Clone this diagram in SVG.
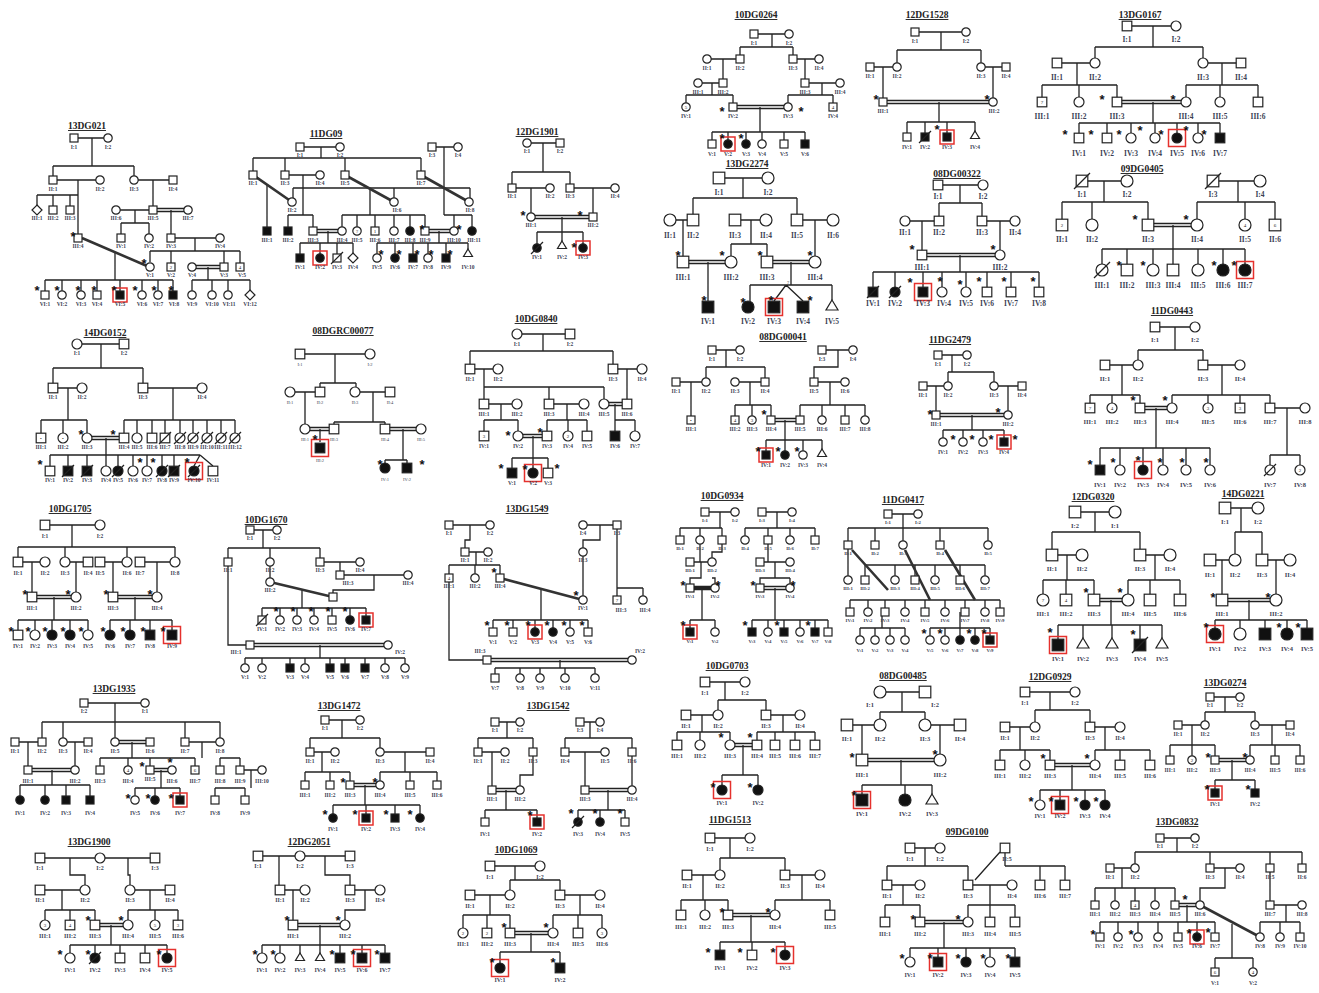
<svg xmlns="http://www.w3.org/2000/svg" width="1319" height="993" viewBox="0 0 1319 993">
<style>
use{fill:#fff;stroke:#222;stroke-width:1.2}
use.f{fill:#111}
use.r{fill:none;stroke:#e5312d;stroke-width:1.5}
.l{fill:none;stroke:#222;stroke-width:1.3}
.d{fill:none;stroke:#333;stroke-width:2.6}
text{font-family:"Liberation Serif",serif;text-anchor:middle}
.h{font-size:9.5px;font-weight:bold;fill:#222;text-decoration:underline}
.t{font-size:5.5px;font-weight:bold;fill:#3c3f55}
.T{font-size:7.5px;font-weight:bold;fill:#3c3f55}
.k{font-size:13px;font-weight:bold;fill:#111;font-family:"Liberation Sans",sans-serif}
.n{font-size:5px;fill:#222}
</style>
<defs>
<rect id="s" x="-4" y="-4" width="8" height="8"/>
<circle id="c" r="4.2"/>
<rect id="m" x="-4.8" y="-4.8" width="9.6" height="9.6"/>
<circle id="o" r="5"/>
<rect id="L" x="-5.8" y="-5.8" width="11.6" height="11.6"/>
<circle id="O" r="6"/>
<path id="tr" d="M0,-4L4.5,3.5H-4.5Z"/>
<path id="TR" d="M0,-5L6,5H-6Z"/>
<path id="di" d="M0,-5L5,0L0,5L-5,0Z"/>
<rect id="p" x="-7" y="-7" width="14" height="14"/>
<rect id="P" x="-8.5" y="-8.5" width="17" height="17"/>
<path id="x" d="M-6,6L6,-6"/>
<path id="X" d="M-8,8L8,-8"/>
</defs>
<rect width="1319" height="993" fill="#fff"/>

<g id="p10DG0264">
<text class="h" x="756" y="18">10DG0264</text>
<g class="conn"><path class="l" d="M754,34H789M772,34V47M740,47H793M740,47V59M793,47V59M707,59H740M819,59H793M723,59V83M805,59V83M698,83H723M805,83H840M712,83V95M686,95H733M686,95V107M733,95V107M822,83V95M788,95H833M788,95V107M833,95V107M733,105.5H788M733,108.5H788M760,107V132M712,132H805M712,132V144M728,132V144M746,132V144M762,132V144M784,132V144M805,132V144"/></g>
<use href="#s" x="754" y="34"/><use href="#c" x="789" y="34"/>
<use href="#c" x="707" y="59"/><use href="#s" x="740" y="59"/><use href="#s" x="793" y="59"/><use href="#c" x="819" y="59"/>
<use href="#c" x="698" y="83"/><use href="#s" x="723" y="83"/><use href="#s" x="805" y="83"/><use href="#c" x="840" y="83"/>
<use href="#c" x="686" y="107"/><use href="#s" x="733" y="107"/><use href="#c" x="788" y="107"/><use href="#s" x="833" y="107"/>
<use href="#s" x="712" y="144"/><use href="#c" class="f" x="728" y="144"/><use href="#c" class="f" x="746" y="144"/><use href="#c" x="762" y="144"/><use href="#s" x="784" y="144"/><use href="#s" class="f" x="805" y="144"/>
<use href="#p" class="r" x="728" y="144"/>
<text class="n" x="686" y="109">5</text><text class="n" x="833" y="109">4</text>
<text class="k" x="722" y="116">*</text><text class="k" x="801" y="116">*</text><text class="k" x="722" y="143">*</text><text class="k" x="741" y="143">*</text>
<g class="t"><text x="754" y="45">I:1</text><text x="789" y="45">I:2</text><text x="707" y="70">II:1</text><text x="740" y="70">II:2</text><text x="793" y="70">II:3</text><text x="819" y="70">II:4</text><text x="698" y="94">III:1</text><text x="723" y="94">III:2</text><text x="805" y="94">III:3</text><text x="840" y="94">III:4</text><text x="686" y="118">IV:1</text><text x="733" y="118">IV:2</text><text x="788" y="118">IV:3</text><text x="833" y="118">IV:4</text><text x="712" y="156">V:1</text><text x="728" y="156">V:2</text><text x="746" y="156">V:3</text><text x="762" y="156">V:4</text><text x="784" y="156">V:5</text><text x="805" y="156">V:6</text></g>
</g>

<g id="p12DG1528">
<text class="h" x="927" y="18">12DG1528</text>
<g class="conn"><path class="l" d="M915,32H966M941,32V50M897,50H981M897,50V67M981,50V67M870,67H897M981,67H1006M883,67V102M993,67V102M883,100.5H993M883,103.5H993M939,102V122M907,122H975M907,122V137M925,122V137M947,122V137M975,122V133"/></g>
<use href="#s" x="915" y="32"/><use href="#c" x="966" y="32"/>
<use href="#s" x="870" y="67"/><use href="#c" x="897" y="67"/><use href="#c" x="981" y="67"/><use href="#s" x="1006" y="67"/>
<use href="#s" x="883" y="102"/><use href="#c" x="993" y="102"/>
<use href="#s" x="907" y="137"/><use href="#s" class="f" x="925" y="137"/><use href="#x" x="925" y="137"/><use href="#s" class="f" x="947" y="137"/><use href="#p" class="r" x="947" y="137"/><use href="#tr" x="975" y="135"/>
<text class="k" x="876" y="104">*</text><text class="k" x="987" y="104">*</text><text class="k" x="937" y="134">*</text>
<g class="t"><text x="915" y="43">I:1</text><text x="966" y="43">I:2</text><text x="870" y="78">II:1</text><text x="897" y="78">II:2</text><text x="981" y="78">II:3</text><text x="1006" y="78">II:4</text><text x="883" y="113">III:1</text><text x="994" y="113">III:2</text><text x="907" y="149">IV:1</text><text x="925" y="149">IV:2</text><text x="947" y="149">IV:3</text><text x="975" y="149">IV:4</text></g>
</g>

<g id="p13DG0167">
<text class="h" x="1140" y="18">13DG0167</text>
<g class="conn"><path class="l" d="M1127,26H1176M1153,26V47M1095,47H1203M1095,47V63M1203,47V63M1057,63H1095M1203,63H1241M1077,63V85M1042,85H1117M1042,85V102M1079,85V102M1117,85V102M1222,63V85M1186,85H1258M1186,85V102M1220,85V102M1258,85V102M1117,100.5H1186M1117,103.5H1186M1153,102V123M1079,123H1220M1079,123V138M1107,123V138M1131,123V138M1155,123V138M1177,123V138M1198,123V138M1220,123V138"/></g>
<use href="#m" x="1127" y="26"/><use href="#o" x="1176" y="26"/>
<use href="#m" x="1057" y="63"/><use href="#o" x="1095" y="63"/><use href="#o" x="1203" y="63"/><use href="#m" x="1241" y="63"/>
<use href="#m" x="1042" y="102"/><use href="#o" x="1079" y="102"/><use href="#m" x="1117" y="102"/><use href="#o" x="1186" y="102"/><use href="#o" x="1220" y="102"/><use href="#m" x="1258" y="102"/>
<use href="#m" x="1079" y="138"/><use href="#m" x="1107" y="138"/><use href="#o" x="1131" y="138"/><use href="#o" x="1155" y="138"/><use href="#o" class="f" x="1177" y="138"/><use href="#o" x="1198" y="138"/><use href="#m" class="f" x="1220" y="138"/>
<use href="#P" class="r" x="1177" y="138"/>
<text class="n" x="1042" y="104">7</text>
<text class="k" x="1102" y="104">*</text><text class="k" x="1173" y="104">*</text><text class="k" x="1065" y="139">*</text><text class="k" x="1091" y="139">*</text><text class="k" x="1119" y="139">*</text><text class="k" x="1140" y="135">*</text><text class="k" x="1161" y="139">*</text><text class="k" x="1186" y="135">*</text><text class="k" x="1204" y="139">*</text>
<g class="T"><text x="1127" y="42">I:1</text><text x="1176" y="42">I:2</text><text x="1057" y="80">II:1</text><text x="1095" y="80">II:2</text><text x="1203" y="80">II:3</text><text x="1241" y="80">II:4</text><text x="1042" y="119">III:1</text><text x="1079" y="119">III:2</text><text x="1117" y="119">III:3</text><text x="1186" y="119">III:4</text><text x="1220" y="119">III:5</text><text x="1258" y="119">III:6</text><text x="1079" y="156">IV:1</text><text x="1107" y="156">IV:2</text><text x="1131" y="156">IV:3</text><text x="1155" y="156">IV:4</text><text x="1177" y="156">IV:5</text><text x="1198" y="156">IV:6</text><text x="1220" y="156">IV:7</text></g>
</g>

<g id="p13DG021">
<text class="h" x="87" y="129">13DG021</text>
<g class="conn"><path class="l" d="M74,138H108M92,138V166M53,166H134M53,166V180M134,166V180M53,180H100M134,180H173M78,180V238M37,195H78M37,195V210M53,195V210M70,195V210M153,180V210M116,210H153M153,208.5H188M153,211.5H188M135,210V223M121,223H149M121,223V238M149,223V238M171,210V238M171,238H220M195,238V251M150,251H240M150,251V262M171,251V267M224,251V267M240,251V267M192,265.5H224M192,268.5H224M115,253V280M45,280H173M45,280V295M62,280V295M81,280V295M97,280V295M120,280V295M142,280V295M158,280V295M173,280V295M208,267V280M192,280H250M192,280V295M212,280V295M228,280V295M250,280V295"/><path class="d" d="M82,238L147,266"/></g>
<use href="#s" x="74" y="138"/><use href="#c" x="108" y="138"/>
<use href="#s" x="53" y="180"/><use href="#c" x="100" y="180"/><use href="#c" x="134" y="180"/><use href="#s" x="173" y="180"/>
<use href="#di" x="37" y="210"/><use href="#s" x="53" y="210"/><use href="#s" x="70" y="210"/><use href="#c" x="116" y="210"/><use href="#s" x="153" y="210"/><use href="#c" x="188" y="210"/>
<use href="#s" x="78" y="238"/><use href="#s" x="121" y="238"/><use href="#c" x="149" y="238"/><use href="#s" x="171" y="238"/><use href="#c" x="220" y="238"/>
<use href="#c" x="150" y="267"/><use href="#s" x="171" y="267"/><use href="#c" x="192" y="267"/><use href="#s" x="224" y="267"/><use href="#s" x="240" y="267"/>
<use href="#s" x="45" y="295"/><use href="#c" x="62" y="295"/><use href="#c" x="81" y="295"/><use href="#s" x="97" y="295"/><use href="#s" class="f" x="120" y="295"/><use href="#c" x="142" y="295"/><use href="#c" x="158" y="295"/><use href="#s" class="f" x="173" y="295"/><use href="#c" x="192" y="295"/><use href="#c" x="212" y="295"/><use href="#c" x="228" y="295"/><use href="#di" x="250" y="295"/>
<use href="#p" class="r" x="120" y="295"/>
<text class="n" x="171" y="269">2</text><text class="n" x="240" y="269">4</text>
<text class="k" x="73" y="241">*</text><text class="k" x="144" y="268">*</text><text class="k" x="37" y="295">*</text><text class="k" x="57" y="295">*</text><text class="k" x="78" y="295">*</text><text class="k" x="94" y="295">*</text><text class="k" x="114" y="295">*</text><text class="k" x="135" y="295">*</text><text class="k" x="154" y="295">*</text><text class="k" x="171" y="295">*</text>
<g class="t"><text x="74" y="149">I:1</text><text x="108" y="149">I:2</text><text x="53" y="191">II:1</text><text x="100" y="191">II:2</text><text x="134" y="191">II:3</text><text x="173" y="191">II:4</text><text x="37" y="220">III:1</text><text x="53" y="220">III:2</text><text x="70" y="220">III:3</text><text x="116" y="220">III:6</text><text x="153" y="220">III:5</text><text x="188" y="220">III:7</text><text x="78" y="248">III:4</text><text x="121" y="248">IV:1</text><text x="149" y="248">IV:2</text><text x="171" y="248">IV:3</text><text x="220" y="248">IV:4</text><text x="150" y="277">V:1</text><text x="171" y="277">V:2</text><text x="192" y="277">V:4</text><text x="224" y="277">V:3</text><text x="242" y="277">V:5</text><text x="45" y="306">VI:1</text><text x="62" y="306">VI:2</text><text x="81" y="306">VI:3</text><text x="97" y="306">VI:4</text><text x="120" y="306">VI:5</text><text x="142" y="306">VI:6</text><text x="158" y="306">VI:7</text><text x="174" y="306">VI:8</text><text x="192" y="306">VI:9</text><text x="212" y="306">VI:10</text><text x="229" y="306">VI:11</text><text x="250" y="306">VI:12</text></g>
</g>

<g id="p11DG09">
<text class="h" x="326" y="137">11DG09</text>
<g class="conn"><path class="l" d="M300,147H340M321,147V158M253,158H421M253,158V175M285,158V175M345,158V175M421,158V175M285,175H320M432,147H458M444,147V215M293,188H470M293,188V198M394,188V198M470,188V198M444,215H472M454,215V231M472,215V231M267,185V231M303,175V215M288,215H313M288,215V231M313,215V231M370,189V215M342,215H425M342,215V231M357,215V231M375,215V231M394,215V231M410,215V231M425,215V231M313,229.5H342M313,232.5H342M425,229.5H454M425,232.5H454M328,231V243M300,243H353M300,243V258M320,243V258M337,243V258M353,243V258M439,231V243M377,243H468M377,243V258M395,243V258M413,243V258M428,243V258M446,243V258M468,243V249"/><path class="d" d="M253,175L292,202M345,175L394,202M421,175L469,202"/></g>
<use href="#s" x="300" y="147"/><use href="#c" x="340" y="147"/><use href="#s" x="432" y="147"/><use href="#c" x="458" y="147"/>
<use href="#s" x="253" y="175"/><use href="#s" x="285" y="175"/><use href="#c" x="320" y="175"/><use href="#s" x="345" y="175"/><use href="#s" x="421" y="175"/>
<use href="#c" x="292" y="202"/><use href="#c" x="394" y="202"/><use href="#c" x="469" y="202"/>
<use href="#s" class="f" x="267" y="231"/><use href="#s" class="f" x="288" y="231"/><use href="#s" x="313" y="231"/><use href="#c" x="342" y="231"/><use href="#c" x="357" y="231"/><use href="#s" x="375" y="231"/><use href="#c" x="394" y="231"/><use href="#c" class="f" x="410" y="231"/><use href="#s" x="425" y="231"/><use href="#c" x="454" y="231"/><use href="#c" class="f" x="472" y="231"/>
<use href="#s" class="f" x="300" y="258"/><use href="#c" class="f" x="320" y="258"/><use href="#s" x="337" y="258"/><use href="#x" x="337" y="258"/><use href="#di" x="353" y="258"/><use href="#c" x="377" y="258"/><use href="#c" class="f" x="395" y="258"/><use href="#s" class="f" x="413" y="258"/><use href="#c" x="428" y="258"/><use href="#s" class="f" x="446" y="258"/><use href="#tr" x="468" y="253"/>
<use href="#p" class="r" x="320" y="258"/>
<text class="n" x="357" y="233">?</text><text class="n" x="375" y="233">1</text>
<text class="k" x="422" y="234">*</text><text class="k" x="459" y="234">*</text><text class="k" x="381" y="259">*</text><text class="k" x="399" y="259">*</text><text class="k" x="417" y="259">*</text><text class="k" x="431" y="259">*</text><text class="k" x="450" y="259">*</text>
<g class="t"><text x="300" y="157">I:1</text><text x="340" y="157">I:2</text><text x="432" y="157">I:3</text><text x="458" y="157">I:4</text><text x="253" y="185">II:1</text><text x="285" y="185">II:3</text><text x="320" y="185">II:4</text><text x="345" y="185">II:5</text><text x="421" y="185">II:7</text><text x="292" y="212">II:2</text><text x="397" y="212">II:6</text><text x="470" y="212">II:8</text><text x="267" y="242">III:1</text><text x="288" y="242">III:2</text><text x="313" y="242">III:3</text><text x="342" y="242">III:4</text><text x="357" y="242">III:5</text><text x="375" y="242">III:6</text><text x="394" y="242">III:7</text><text x="410" y="242">III:8</text><text x="425" y="242">III:9</text><text x="454" y="242">III:10</text><text x="474" y="242">III:11</text><text x="300" y="269">IV:1</text><text x="320" y="269">IV:2</text><text x="337" y="269">IV:3</text><text x="353" y="269">IV:4</text><text x="377" y="269">IV:5</text><text x="395" y="269">IV:6</text><text x="413" y="269">IV:7</text><text x="428" y="269">IV:8</text><text x="446" y="269">IV:9</text><text x="468" y="269">IV:10</text></g>
</g>

<g id="p12DG1901">
<text class="h" x="537" y="135">12DG1901</text>
<g class="conn"><path class="l" d="M527,143H560M543,143V172M512,172H570M512,172V188M570,172V188M512,188H550M570,188H615M531,188V217M593,188V217M531,215.5H593M531,218.5H593M562,217V232M537,232H583M537,232V248M562,232V241M583,232V248"/></g>
<use href="#c" x="527" y="143"/><use href="#s" x="560" y="143"/>
<use href="#s" x="512" y="188"/><use href="#c" x="550" y="188"/><use href="#s" x="570" y="188"/><use href="#c" x="615" y="188"/>
<use href="#c" x="531" y="217"/><use href="#s" x="593" y="217"/>
<use href="#c" class="f" x="537" y="248"/><use href="#x" x="537" y="248"/><use href="#tr" x="562" y="245"/><use href="#c" class="f" x="583" y="248"/><use href="#p" class="r" x="583" y="248"/>
<text class="k" x="523" y="220">*</text><text class="k" x="580" y="220">*</text><text class="k" x="574" y="252">*</text>
<g class="t"><text x="527" y="153">I:1</text><text x="560" y="153">I:2</text><text x="512" y="198">II:1</text><text x="550" y="198">II:2</text><text x="570" y="198">II:3</text><text x="615" y="198">II:4</text><text x="531" y="227">III:1</text><text x="593" y="227">III:2</text><text x="537" y="259">IV:1</text><text x="562" y="259">IV:2</text><text x="583" y="259">IV:3</text></g>
</g>

<g id="p13DG2274">
<text class="h" x="747" y="167">13DG2274</text>
<g class="conn"><path class="l" d="M719,178H768M743,178V198M693,198H797M693,198V220M797,198V220M670,220H693M735,220H766M797,220H833M683,220V262M751,220V244M731,244H767M731,244V262M767,244V262M815,220V262M683,260.5H731M683,263.5H731M767,260.5H815M767,263.5H815M708,262V301M791,262V285M750,285H832M750,285V301M832,285V300M786,285L774,301M786,285L803,301"/></g>
<use href="#L" x="719" y="178"/><use href="#O" x="768" y="178"/>
<use href="#O" x="670" y="220"/><use href="#L" x="693" y="220"/><use href="#L" x="735" y="220"/><use href="#O" x="766" y="220"/><use href="#L" x="797" y="220"/><use href="#O" x="833" y="220"/>
<use href="#L" x="683" y="262"/><use href="#O" x="731" y="262"/><use href="#L" x="767" y="262"/><use href="#O" x="815" y="262"/>
<use href="#L" class="f" x="708" y="307"/><use href="#O" class="f" x="748" y="307"/><use href="#L" class="f" x="774" y="307"/><use href="#L" class="f" x="803" y="307"/><use href="#TR" x="832" y="305"/>
<use href="#P" class="r" x="774" y="307"/>
<text class="n" x="788" y="284">?</text>
<text class="k" x="678" y="260">*</text><text class="k" x="722" y="260">*</text><text class="k" x="760" y="260">*</text><text class="k" x="810" y="260">*</text><text class="k" x="704" y="305">*</text><text class="k" x="743" y="307">*</text><text class="k" x="771" y="305">*</text><text class="k" x="810" y="305">*</text>
<g class="T"><text x="719" y="195">I:1</text><text x="768" y="195">I:2</text><text x="670" y="238">II:1</text><text x="693" y="238">II:2</text><text x="735" y="238">II:3</text><text x="766" y="238">II:4</text><text x="797" y="238">II:5</text><text x="833" y="238">II:6</text><text x="683" y="280">III:1</text><text x="731" y="280">III:2</text><text x="767" y="280">III:3</text><text x="815" y="280">III:4</text><text x="708" y="324">IV:1</text><text x="748" y="324">IV:2</text><text x="774" y="324">IV:3</text><text x="803" y="324">IV:4</text><text x="832" y="324">IV:5</text></g>
</g>

<g id="p08DG00322">
<text class="h" x="957" y="177">08DG00322</text>
<g class="conn"><path class="l" d="M938,185H983M960,185V203M939,203H982M939,203V221M982,203V221M905,221H939M982,221H1015M922,221V255M1000,221V255M922,253.5H1000M922,256.5H1000M960,255V272M873,272H1039M873,272V292M895,272V292M923,272V292M942,272V292M966,272V292M987,272V292M1011,272V292M1039,272V292"/></g>
<use href="#m" x="938" y="185"/><use href="#o" x="983" y="185"/>
<use href="#o" x="905" y="221"/><use href="#m" x="939" y="221"/><use href="#m" x="982" y="221"/><use href="#o" x="1015" y="221"/>
<use href="#m" x="922" y="255"/><use href="#o" x="1000" y="255"/>
<use href="#m" class="f" x="873" y="292"/><use href="#x" x="873" y="292"/><use href="#o" class="f" x="895" y="292"/><use href="#x" x="895" y="292"/><use href="#m" class="f" x="923" y="292"/><use href="#o" x="942" y="292"/><use href="#o" x="966" y="292"/><use href="#m" x="987" y="292"/><use href="#m" x="1011" y="292"/><use href="#m" x="1039" y="292"/>
<use href="#P" class="r" x="923" y="292"/>
<text class="k" x="912" y="254">*</text><text class="k" x="993" y="254">*</text><text class="k" x="910" y="287">*</text><text class="k" x="940" y="286">*</text><text class="k" x="960" y="289">*</text><text class="k" x="979" y="286">*</text><text class="k" x="1004" y="286">*</text><text class="k" x="1033" y="286">*</text>
<g class="T"><text x="938" y="199">I:1</text><text x="983" y="199">I:2</text><text x="905" y="235">II:1</text><text x="939" y="235">II:2</text><text x="982" y="235">II:3</text><text x="1015" y="235">II:4</text><text x="922" y="270">III:1</text><text x="1000" y="270">III:2</text><text x="873" y="306">IV:1</text><text x="895" y="306">IV:2</text><text x="923" y="306">IV:3</text><text x="944" y="306">IV:4</text><text x="966" y="306">IV:5</text><text x="987" y="306">IV:6</text><text x="1011" y="306">IV:7</text><text x="1039" y="306">IV:8</text></g>
</g>

<g id="p09DG0405">
<text class="h" x="1142" y="172">09DG0405</text>
<g class="conn"><path class="l" d="M1082,181H1127M1104,181V202M1062,202H1148M1062,202V225M1092,202V225M1148,202V225M1213,181H1260M1238,181V202M1197,202H1275M1197,202V225M1245,202V225M1275,202V225M1148,223.5H1197M1148,226.5H1197M1173,225V249M1102,249H1245M1102,249V270M1127,249V270M1153,249V270M1173,249V270M1198,249V270M1223,249V270M1245,249V270"/></g>
<use href="#L" x="1082" y="181"/><use href="#X" x="1082" y="181"/><use href="#O" x="1127" y="181"/><use href="#L" x="1213" y="181"/><use href="#X" x="1213" y="181"/><use href="#O" x="1260" y="181"/>
<use href="#L" x="1062" y="225"/><use href="#O" x="1092" y="225"/><use href="#L" x="1148" y="225"/><use href="#O" x="1197" y="225"/><use href="#O" x="1245" y="225"/><use href="#L" x="1275" y="225"/>
<use href="#O" x="1102" y="270"/><use href="#X" x="1102" y="270"/><use href="#L" x="1127" y="270"/><use href="#O" x="1153" y="270"/><use href="#L" x="1173" y="270"/><use href="#O" x="1198" y="270"/><use href="#O" class="f" x="1223" y="270"/><use href="#O" class="f" x="1245" y="270"/>
<use href="#P" class="r" x="1245" y="270"/>
<text class="n" x="1062" y="227">2</text><text class="n" x="1245" y="227">4</text><text class="n" x="1275" y="227">6</text>
<text class="k" x="1135" y="224">*</text><text class="k" x="1186" y="224">*</text><text class="k" x="1119" y="270">*</text><text class="k" x="1143" y="270">*</text><text class="k" x="1214" y="270">*</text><text class="k" x="1234" y="270">*</text>
<g class="T"><text x="1082" y="197">I:1</text><text x="1127" y="197">I:2</text><text x="1213" y="197">I:3</text><text x="1260" y="197">I:4</text><text x="1062" y="242">II:1</text><text x="1092" y="242">II:2</text><text x="1148" y="242">II:3</text><text x="1197" y="242">II:4</text><text x="1245" y="242">II:5</text><text x="1275" y="242">II:6</text><text x="1102" y="288">III:1</text><text x="1127" y="288">III:2</text><text x="1153" y="288">III:3</text><text x="1173" y="288">III:4</text><text x="1198" y="288">III:5</text><text x="1223" y="288">III:6</text><text x="1245" y="288">III:7</text></g>
</g>

<g id="p14DG0152">
<text class="h" x="105" y="336">14DG0152</text>
<g class="conn"><path class="l" d="M77,344H124M101,344V368M53,368H143M53,368V388M143,368V388M53,388H82M143,388H202M68,388V420M41,420H87M41,420V438M63,420V438M87,420V438M173,388V420M124,420H235M124,420V438M137,420V438M152,420V438M165,420V438M180,420V438M193,420V438M207,420V438M221,420V438M235,420V438M87,436.5H124M87,439.5H124M106,438V455M50,455H200M50,455V471M68,455V471M87,455V471M106,455V471M118,455V471M133,455V471M147,455V471M162,455V471M174,455V471M200,455L194,466M200,455L213,466"/></g>
<use href="#o" x="77" y="344"/><use href="#m" x="124" y="344"/>
<use href="#m" x="53" y="388"/><use href="#o" x="82" y="388"/><use href="#m" x="143" y="388"/><use href="#o" x="202" y="388"/>
<use href="#m" x="41" y="438"/><use href="#o" x="63" y="438"/><use href="#o" x="87" y="438"/><use href="#m" x="124" y="438"/><use href="#o" x="137" y="438"/><use href="#m" x="152" y="438"/><use href="#m" x="165" y="438"/><use href="#x" x="165" y="438"/><use href="#o" x="180" y="438"/><use href="#x" x="180" y="438"/><use href="#o" x="193" y="438"/><use href="#x" x="193" y="438"/><use href="#o" x="207" y="438"/><use href="#x" x="207" y="438"/><use href="#o" x="221" y="438"/><use href="#x" x="221" y="438"/><use href="#o" x="235" y="438"/><use href="#x" x="235" y="438"/>
<use href="#m" x="50" y="471"/><use href="#m" class="f" x="68" y="471"/><use href="#x" x="68" y="471"/><use href="#m" class="f" x="87" y="471"/><use href="#x" x="87" y="471"/><use href="#o" x="106" y="471"/><use href="#o" class="f" x="118" y="471"/><use href="#x" x="118" y="471"/><use href="#o" x="133" y="471"/><use href="#o" x="147" y="471"/><use href="#o" class="f" x="162" y="471"/><use href="#x" x="162" y="471"/><use href="#m" class="f" x="174" y="471"/><use href="#x" x="174" y="471"/><use href="#o" class="f" x="194" y="471"/><use href="#x" x="194" y="471"/><use href="#m" x="213" y="471"/>
<use href="#P" class="r" x="194" y="471"/>
<text class="n" x="41" y="440">•</text><text class="n" x="63" y="440">•</text>
<text class="k" x="81" y="439">*</text><text class="k" x="113" y="439">*</text><text class="k" x="40" y="469">*</text><text class="k" x="140" y="467">*</text><text class="k" x="153" y="467">*</text><text class="k" x="187" y="467">*</text>
<g class="t"><text x="77" y="355">I:1</text><text x="124" y="355">I:2</text><text x="53" y="399">II:1</text><text x="82" y="399">II:2</text><text x="143" y="399">II:3</text><text x="202" y="399">II:4</text><text x="41" y="449">III:1</text><text x="63" y="449">III:2</text><text x="87" y="449">III:3</text><text x="124" y="449">III:4</text><text x="137" y="449">III:5</text><text x="152" y="449">III:6</text><text x="165" y="449">III:7</text><text x="180" y="449">III:8</text><text x="193" y="449">III:9</text><text x="207" y="449">III:10</text><text x="221" y="449">III:11</text><text x="235" y="449">III:12</text><text x="50" y="482">IV:1</text><text x="68" y="482">IV:2</text><text x="87" y="482">IV:3</text><text x="106" y="482">IV:4</text><text x="118" y="482">IV:5</text><text x="133" y="482">IV:6</text><text x="147" y="482">IV:7</text><text x="162" y="482">IV:8</text><text x="174" y="482">IV:9</text><text x="194" y="482">IV:10</text><text x="213" y="482">IV:11</text></g>
</g>

<g id="p08DGRC00077">
<text class="h" x="343" y="334">08DGRC00077</text>
<g class="conn"><path class="l" d="M300,354H370M335,354V383M320,383H356M320,383V392M356,383V392M290,392H320M356,392H390M305,392V429M373,392V422M334,422H385M334,422V429M385,422V429M305,427.5H334M305,430.5H334M385,427.5H421M385,430.5H421M320,429V442M403,429V460M385,460H407M385,460V468M407,460V468"/></g>
<use href="#m" x="300" y="354"/><use href="#o" x="370" y="354"/>
<use href="#o" x="290" y="392"/><use href="#m" x="320" y="392"/><use href="#o" x="355" y="392"/><use href="#m" x="390" y="392"/>
<use href="#o" x="305" y="429"/><use href="#m" x="334" y="429"/><use href="#m" x="385" y="429"/><use href="#o" x="421" y="429"/>
<use href="#m" class="f" x="320" y="448"/><use href="#P" class="r" x="320" y="448"/>
<use href="#o" class="f" x="385" y="468"/><use href="#m" class="f" x="407" y="468"/>
<text class="k" x="315" y="444">*</text><text class="k" x="380" y="469">*</text><text class="k" x="422" y="469">*</text>
<g class="t" style="font-weight:normal;font-size:4.5px"><text x="300" y="366">I:1</text><text x="370" y="366">I:2</text><text x="290" y="404">II:1</text><text x="320" y="404">II:2</text><text x="355" y="404">II:3</text><text x="390" y="404">II:4</text><text x="305" y="441">III:1</text><text x="334" y="441">III:3</text><text x="385" y="441">III:4</text><text x="421" y="441">III:5</text><text x="320" y="462">III:2</text><text x="385" y="481">IV:1</text><text x="407" y="481">IV:2</text></g>
</g>

<g id="p10DG0840">
<text class="h" x="536" y="322">10DG0840</text>
<g class="conn"><path class="l" d="M517,334H570M543,334V351M470,351H613M470,351V369M613,351V369M470,369H498M613,369H642M484,369V387M484,387H604M484,387V404M549,387V404M604,387V404M627,369V404M484,404H517M549,404H584M604,402.5H627M604,405.5H627M501,404V420M484,420H518M484,420V436M518,420V436M567,404V420M547,420H587M547,420V436M568,420V436M587,420V436M615,404V420M615,420H635M615,420V436M635,420V436M518,434.5H547M518,437.5H547M533,436V458M512,458H548M512,458V473M533,458V473M548,458V473"/></g>
<use href="#o" x="517" y="334"/><use href="#m" x="570" y="334"/>
<use href="#m" x="470" y="369"/><use href="#o" x="498" y="369"/><use href="#m" x="613" y="369"/><use href="#o" x="642" y="369"/>
<use href="#m" x="484" y="404"/><use href="#o" x="517" y="404"/><use href="#m" x="549" y="404"/><use href="#o" x="584" y="404"/><use href="#o" x="604" y="404"/><use href="#m" x="627" y="404"/>
<use href="#m" x="484" y="436"/><use href="#o" x="518" y="436"/><use href="#m" x="547" y="436"/><use href="#o" x="568" y="436"/><use href="#m" x="587" y="436"/><use href="#m" class="f" x="615" y="436"/><use href="#o" x="635" y="436"/>
<use href="#m" class="f" x="512" y="473"/><use href="#o" class="f" x="533" y="473"/><use href="#m" x="548" y="473"/><use href="#P" class="r" x="533" y="473"/>
<text class="n" x="484" y="438">3</text><text class="n" x="568" y="438">2</text>
<text class="k" x="508" y="440">*</text><text class="k" x="540" y="437">*</text><text class="k" x="501" y="473">*</text><text class="k" x="525" y="474">*</text><text class="k" x="557" y="473">*</text>
<g class="t"><text x="517" y="346">I:1</text><text x="570" y="346">I:2</text><text x="470" y="381">II:1</text><text x="498" y="381">II:2</text><text x="613" y="381">II:3</text><text x="642" y="381">II:4</text><text x="484" y="416">III:1</text><text x="517" y="416">III:2</text><text x="549" y="416">III:3</text><text x="584" y="416">III:4</text><text x="604" y="416">III:5</text><text x="627" y="416">III:6</text><text x="484" y="448">IV:1</text><text x="518" y="448">IV:2</text><text x="547" y="448">IV:3</text><text x="568" y="448">IV:4</text><text x="587" y="448">IV:5</text><text x="615" y="448">IV:6</text><text x="635" y="448">IV:7</text><text x="512" y="485">V:1</text><text x="533" y="485">V:2</text><text x="548" y="485">V:3</text></g>
</g>

<g id="p08DG00041">
<text class="h" x="783" y="340">08DG00041</text>
<g class="conn"><path class="l" d="M712,350H740M726,350V367M706,367H765M706,367V382M765,367V382M676,382H706M735,382H765M691,382V420M750,382V405M735,405H771M735,405V420M752,405V420M771,405V420M822,350H853M838,350V367H814V382M814,382H845M830,382V405M800,405H865M800,405V420M822,405V420M845,405V420M865,405V420M771,418.5H800M771,421.5H800M785,420V440M766,440H822M766,440V455M785,440V455M803,440V455M822,440V450"/></g>
<use href="#s" x="712" y="350"/><use href="#c" x="740" y="350"/><use href="#s" x="822" y="350"/><use href="#c" x="853" y="350"/>
<use href="#s" x="676" y="382"/><use href="#c" x="706" y="382"/><use href="#c" x="735" y="382"/><use href="#s" x="765" y="382"/><use href="#s" x="814" y="382"/><use href="#c" x="845" y="382"/>
<use href="#s" x="691" y="420"/><use href="#s" x="735" y="420"/><use href="#c" x="752" y="420"/><use href="#s" x="771" y="420"/><use href="#s" x="800" y="420"/><use href="#c" x="822" y="420"/><use href="#s" x="845" y="420"/><use href="#c" x="865" y="420"/>
<use href="#s" class="f" x="766" y="455"/><use href="#p" class="r" x="766" y="455"/><use href="#c" class="f" x="785" y="455"/><use href="#c" x="803" y="455"/><use href="#tr" x="822" y="453"/>
<text class="n" x="691" y="422">•</text><text class="n" x="735" y="422">4</text><text class="n" x="752" y="422">3</text>
<text class="k" x="764" y="419">*</text><text class="k" x="758" y="456">*</text><text class="k" x="778" y="456">*</text><text class="k" x="797" y="456">*</text>
<g class="t"><text x="712" y="361">I:1</text><text x="740" y="361">I:2</text><text x="822" y="361">I:3</text><text x="853" y="361">I:4</text><text x="676" y="393">II:1</text><text x="706" y="393">II:2</text><text x="735" y="393">II:3</text><text x="765" y="393">II:4</text><text x="814" y="393">II:5</text><text x="845" y="393">II:6</text><text x="691" y="431">III:1</text><text x="735" y="431">III:2</text><text x="752" y="431">III:3</text><text x="771" y="431">III:4</text><text x="800" y="431">III:5</text><text x="822" y="431">III:6</text><text x="845" y="431">III:7</text><text x="865" y="431">III:8</text><text x="766" y="467">IV:1</text><text x="785" y="467">IV:2</text><text x="803" y="467">IV:3</text><text x="822" y="467">IV:4</text></g>
</g>

<g id="p11DG2479">
<text class="h" x="950" y="343">11DG2479</text>
<g class="conn"><path class="l" d="M938,355H967M952,355V372M948,372H994M948,372V386M994,372V386M923,386H948M994,386H1022M936,386V415M1008,386V415M936,413.5H1008M936,416.5H1008M972,415V430M943,430H1004M943,430V442M963,430V442M983,430V442M1004,430V442"/></g>
<use href="#s" x="938" y="355"/><use href="#c" x="967" y="355"/>
<use href="#s" x="923" y="386"/><use href="#c" x="948" y="386"/><use href="#c" x="994" y="386"/><use href="#s" x="1022" y="386"/>
<use href="#s" x="936" y="415"/><use href="#c" x="1008" y="415"/>
<use href="#c" x="943" y="442"/><use href="#c" x="963" y="442"/><use href="#c" x="983" y="442"/><use href="#s" class="f" x="1004" y="442"/><use href="#p" class="r" x="1004" y="442"/>
<text class="k" x="930" y="419">*</text><text class="k" x="998" y="417">*</text><text class="k" x="953" y="444">*</text><text class="k" x="972" y="444">*</text><text class="k" x="991" y="444">*</text><text class="k" x="1015" y="444">*</text>
<g class="t"><text x="938" y="366">I:1</text><text x="967" y="366">I:2</text><text x="923" y="397">II:1</text><text x="948" y="397">II:2</text><text x="994" y="397">II:3</text><text x="1022" y="397">II:4</text><text x="936" y="426">III:1</text><text x="1008" y="426">III:2</text><text x="943" y="454">IV:1</text><text x="963" y="454">IV:2</text><text x="983" y="454">IV:3</text><text x="1004" y="454">IV:4</text></g>
</g>

<g id="p11DG0443">
<text class="h" x="1172" y="314">11DG0443</text>
<g class="conn"><path class="l" d="M1155,327H1195M1175,327V350M1138,350H1203M1138,350V365M1203,350V365M1105,365H1138M1203,365H1240M1122,365V395M1090,395H1140M1090,395V408M1112,395V408M1140,395V408M1222,365V395M1172,395H1270M1172,395V408M1208,395V408M1240,395V408M1270,395V408M1140,406.5H1172M1140,409.5H1172M1156,408V448M1100,448H1210M1100,448V470M1120,448V470M1143,448V470M1163,448V470M1186,448V470M1210,448V470M1270,408H1305M1287,408V455M1270,455H1300M1270,455V470M1300,455V470"/></g>
<use href="#m" x="1155" y="327"/><use href="#o" x="1195" y="327"/>
<use href="#m" x="1105" y="365"/><use href="#o" x="1138" y="365"/><use href="#m" x="1203" y="365"/><use href="#o" x="1240" y="365"/>
<use href="#m" x="1090" y="408"/><use href="#o" x="1112" y="408"/><use href="#m" x="1140" y="408"/><use href="#o" x="1172" y="408"/><use href="#o" x="1208" y="408"/><use href="#m" x="1240" y="408"/><use href="#m" x="1270" y="408"/><use href="#o" x="1305" y="408"/>
<use href="#m" class="f" x="1100" y="470"/><use href="#o" x="1120" y="470"/><use href="#o" class="f" x="1143" y="470"/><use href="#P" class="r" x="1143" y="470"/><use href="#o" x="1163" y="470"/><use href="#o" x="1186" y="470"/><use href="#o" x="1210" y="470"/><use href="#o" x="1270" y="470"/><use href="#x" x="1270" y="470"/><use href="#o" x="1300" y="470"/>
<text class="n" x="1090" y="410">7</text><text class="n" x="1112" y="410">4</text><text class="n" x="1208" y="410">3</text><text class="n" x="1240" y="410">3</text><text class="n" x="1300" y="472">2</text>
<text class="k" x="1133" y="405">*</text><text class="k" x="1165" y="405">*</text><text class="k" x="1090" y="469">*</text><text class="k" x="1113" y="467">*</text><text class="k" x="1138" y="465">*</text><text class="k" x="1160" y="467">*</text><text class="k" x="1182" y="467">*</text><text class="k" x="1206" y="467">*</text>
<g class="T" style="font-size:6.5px"><text x="1155" y="342">I:1</text><text x="1195" y="342">I:2</text><text x="1105" y="381">II:1</text><text x="1138" y="381">II:2</text><text x="1203" y="381">II:3</text><text x="1240" y="381">II:4</text><text x="1090" y="424">III:1</text><text x="1112" y="424">III:2</text><text x="1140" y="424">III:3</text><text x="1172" y="424">III:4</text><text x="1208" y="424">III:5</text><text x="1240" y="424">III:6</text><text x="1270" y="424">III:7</text><text x="1305" y="424">III:8</text><text x="1100" y="487">IV:1</text><text x="1120" y="487">IV:2</text><text x="1143" y="487">IV:3</text><text x="1163" y="487">IV:4</text><text x="1186" y="487">IV:5</text><text x="1210" y="487">IV:6</text><text x="1270" y="487">IV:7</text><text x="1300" y="487">IV:8</text></g>
</g>

<g id="p10DG1705">
<text class="h" x="70" y="512">10DG1705</text>
<g class="conn"><path class="l" d="M45,525H100M72,525V547M18,547H175M18,547V562M65,547V562M127,547V562M175,547V562M18,562H45M65,562H88M100,562H127M140,562H175M32,562V597M76,562V597M113,562V597M157,562V597M32,595.5H76M32,598.5H76M113,595.5H157M113,598.5H157M54,597V620M18,620H88M18,620V635M35,620V635M52,620V635M70,620V635M88,620V635M135,597V620M110,620H172M110,620V635M130,620V635M150,620V635M172,620V635"/></g>
<use href="#m" x="45" y="525"/><use href="#o" x="100" y="525"/>
<use href="#m" x="18" y="562"/><use href="#o" x="45" y="562"/><use href="#o" x="65" y="562"/><use href="#m" x="88" y="562"/><use href="#m" x="100" y="562"/><use href="#o" x="127" y="562"/><use href="#m" x="140" y="562"/><use href="#o" x="175" y="562"/>
<use href="#m" x="32" y="597"/><use href="#o" x="76" y="597"/><use href="#m" x="113" y="597"/><use href="#o" x="157" y="597"/>
<use href="#m" x="18" y="635"/><use href="#o" x="35" y="635"/><use href="#o" class="f" x="52" y="635"/><use href="#o" class="f" x="70" y="635"/><use href="#o" x="88" y="635"/><use href="#o" class="f" x="110" y="635"/><use href="#o" class="f" x="130" y="635"/><use href="#m" class="f" x="150" y="635"/><use href="#m" class="f" x="172" y="635"/><use href="#P" class="r" x="172" y="635"/>
<text class="k" x="25" y="599">*</text><text class="k" x="68" y="599">*</text><text class="k" x="106" y="599">*</text><text class="k" x="150" y="599">*</text><text class="k" x="11" y="636">*</text><text class="k" x="28" y="636">*</text><text class="k" x="45" y="636">*</text><text class="k" x="63" y="636">*</text><text class="k" x="81" y="636">*</text><text class="k" x="103" y="636">*</text><text class="k" x="123" y="636">*</text><text class="k" x="143" y="636">*</text><text class="k" x="163" y="636">*</text>
<g class="t"><text x="45" y="538">I:1</text><text x="100" y="538">I:2</text><text x="18" y="575">II:1</text><text x="45" y="575">II:2</text><text x="65" y="575">II:3</text><text x="88" y="575">II:4</text><text x="100" y="575">II:5</text><text x="127" y="575">II:6</text><text x="140" y="575">II:7</text><text x="175" y="575">II:8</text><text x="32" y="610">III:1</text><text x="76" y="610">III:2</text><text x="113" y="610">III:3</text><text x="157" y="610">III:4</text><text x="18" y="648">IV:1</text><text x="35" y="648">IV:2</text><text x="52" y="648">IV:3</text><text x="70" y="648">IV:4</text><text x="88" y="648">IV:5</text><text x="110" y="648">IV:6</text><text x="130" y="648">IV:7</text><text x="150" y="648">IV:8</text><text x="172" y="648">IV:9</text></g>
</g>

<g id="p10DG1670">
<text class="h" x="266" y="523">10DG1670</text>
<g class="conn"><path class="l" d="M250,530H277M263,530V548M228,548H320M228,548V562M270,548V562M320,548V562M320,562H360M340,562V575M340,575H408M270,562V582M374,575V590H333V597M302,590V608M262,608H366M262,608V620M280,608V620M297,608V620M314,608V620M332,608V620M350,608V620M366,608V620M228,562V645H250M250,643.5H388M250,646.5H388M320,645V658M245,658H405M245,658V668M262,658V668M290,658V668M305,658V668M330,658V668M345,658V668M365,658V668M385,658V668M405,658V668"/><path class="d" d="M270,582L333,597"/></g>
<use href="#s" x="250" y="530"/><use href="#c" x="277" y="530"/>
<use href="#s" x="228" y="562"/><use href="#c" x="270" y="562"/><use href="#s" x="320" y="562"/><use href="#c" x="360" y="562"/>
<use href="#s" x="340" y="575"/><use href="#c" x="408" y="575"/><use href="#c" x="270" y="582"/><use href="#s" x="333" y="597"/>
<use href="#s" x="262" y="620"/><use href="#x" x="262" y="620"/><use href="#c" x="280" y="620"/><use href="#c" x="297" y="620"/><use href="#c" x="314" y="620"/><use href="#s" x="332" y="620"/><use href="#c" class="f" x="350" y="620"/><use href="#s" class="f" x="366" y="620"/><use href="#p" class="r" x="366" y="620"/>
<use href="#s" x="250" y="645"/><use href="#c" x="388" y="645"/>
<use href="#c" x="245" y="668"/><use href="#c" x="262" y="668"/><use href="#s" class="f" x="290" y="668"/><use href="#c" x="305" y="668"/><use href="#s" class="f" x="330" y="668"/><use href="#s" class="f" x="345" y="668"/><use href="#s" class="f" x="365" y="668"/><use href="#c" x="385" y="668"/><use href="#c" x="405" y="668"/>
<text class="k" x="276" y="616">*</text><text class="k" x="293" y="616">*</text><text class="k" x="311" y="616">*</text><text class="k" x="328" y="616">*</text><text class="k" x="345" y="616">*</text>
<g class="t"><text x="250" y="540">I:1</text><text x="277" y="540">I:2</text><text x="228" y="572">II:1</text><text x="270" y="572">II:2</text><text x="320" y="572">II:3</text><text x="360" y="572">II:4</text><text x="348" y="585">III:3</text><text x="408" y="585">III:4</text><text x="270" y="592">III:2</text><text x="262" y="631">IV:1</text><text x="280" y="631">IV:2</text><text x="297" y="631">IV:3</text><text x="314" y="631">IV:4</text><text x="332" y="631">IV:5</text><text x="350" y="631">IV:6</text><text x="366" y="631">IV:7</text><text x="236" y="654">III:1</text><text x="400" y="654">IV:2</text><text x="245" y="679">V:1</text><text x="262" y="679">V:2</text><text x="290" y="679">V:3</text><text x="305" y="679">V:4</text><text x="330" y="679">V:5</text><text x="345" y="679">V:6</text><text x="365" y="679">V:7</text><text x="385" y="679">V:8</text><text x="405" y="679">V:9</text></g>
</g>

<g id="p13DG1549">
<text class="h" x="527" y="512">13DG1549</text>
<g class="conn"><path class="l" d="M449,525H490M583,525H617M470,525V540H465V552M465,552H488M476,552V565M449,565H500M449,565V578M475,565V578M500,565V578M600,525V540H583V552M583,552V600M617,525V588M617,588H643M617,588V600M643,588V600M541,589V620M493,620H588M493,620V632M513,620V632M535,620V632M553,620V632M570,620V632M588,620V632M449,578V660H487M487,658.5H632M487,661.5H632M560,660V668M495,668H595M495,668V678M520,668V678M540,668V678M565,668V678M595,668V678"/><path class="d" d="M500,578L583,600"/></g>
<use href="#s" x="449" y="525"/><use href="#c" x="490" y="525"/><use href="#c" x="583" y="525"/><use href="#s" x="617" y="525"/>
<use href="#s" x="465" y="552"/><use href="#c" x="488" y="552"/><use href="#c" x="583" y="552"/>
<use href="#s" x="449" y="578"/><use href="#c" x="475" y="578"/><use href="#s" x="500" y="578"/>
<use href="#c" x="583" y="600"/><use href="#s" x="617" y="600"/><use href="#c" x="643" y="600"/>
<use href="#s" x="493" y="632"/><use href="#s" x="513" y="632"/><use href="#c" class="f" x="535" y="632"/><use href="#p" class="r" x="535" y="632"/><use href="#c" class="f" x="553" y="632"/><use href="#c" x="570" y="632"/><use href="#s" x="588" y="632"/>
<use href="#s" x="487" y="660"/><use href="#c" x="632" y="660"/>
<use href="#s" x="495" y="678"/><use href="#c" x="520" y="678"/><use href="#c" x="540" y="678"/><use href="#c" x="565" y="678"/><use href="#c" x="595" y="678"/>
<text class="n" x="449" y="580">4</text><text class="n" x="617" y="602">7</text>
<text class="k" x="494" y="577">*</text><text class="k" x="576" y="600">*</text><text class="k" x="487" y="630">*</text><text class="k" x="507" y="630">*</text><text class="k" x="528" y="630">*</text><text class="k" x="547" y="630">*</text><text class="k" x="564" y="630">*</text><text class="k" x="582" y="630">*</text>
<g class="t"><text x="449" y="535">I:1</text><text x="490" y="535">I:2</text><text x="583" y="535">I:4</text><text x="617" y="535">I:3</text><text x="465" y="562">II:1</text><text x="488" y="562">II:2</text><text x="583" y="562">II:3</text><text x="449" y="588">III:1</text><text x="475" y="588">III:2</text><text x="500" y="588">III:4</text><text x="583" y="610">IV:1</text><text x="621" y="612">III:3</text><text x="645" y="612">III:4</text><text x="493" y="644">V:1</text><text x="513" y="644">V:2</text><text x="535" y="644">V:3</text><text x="553" y="644">V:4</text><text x="570" y="644">V:5</text><text x="588" y="644">V:6</text><text x="480" y="653">III:3</text><text x="640" y="653">IV:2</text><text x="495" y="690">V:7</text><text x="520" y="690">V:8</text><text x="540" y="690">V:9</text><text x="565" y="690">V:10</text><text x="595" y="690">V:11</text></g>
</g>

<g id="p10DG0934">
<text class="h" x="722" y="499">10DG0934</text>
<g class="conn"><path class="l" d="M705,512H735M720,512V528M680,528H722M680,528V540M700,528V540M722,528V540M762,512H792M777,512V528M745,528H815M745,528V540M768,528V540M790,528V540M815,528V540M700,540V562H690M690,562H712M722,540V552H712V562M768,540V562H760M760,562H790M701,562V578H690V588M712,578H715V588M690,588H715M775,562V578H760V588M790,578V588M760,578H790M690,586.5H715M690,589.5H715M760,586.5H790M760,589.5H790M702,588V620M690,620H715M690,620V632M715,620V632M775,588V620M752,620H828M752,620V632M768,620V632M784,620V632M800,620V632M815,620V632M828,620V632"/></g>
<use href="#s" x="705" y="512"/><use href="#c" x="735" y="512"/><use href="#s" x="762" y="512"/><use href="#c" x="792" y="512"/>
<use href="#s" x="680" y="540"/><use href="#c" x="700" y="540"/><use href="#s" x="722" y="540"/><use href="#c" x="745" y="540"/><use href="#s" x="768" y="540"/><use href="#c" x="790" y="540"/><use href="#s" x="815" y="540"/>
<use href="#s" x="690" y="562"/><use href="#c" x="712" y="562"/><use href="#s" x="760" y="562"/><use href="#c" x="790" y="562"/>
<use href="#s" x="690" y="588"/><use href="#c" x="715" y="588"/><use href="#s" x="760" y="588"/><use href="#c" x="790" y="588"/>
<use href="#s" class="f" x="690" y="632"/><use href="#p" class="r" x="690" y="632"/><use href="#c" x="715" y="632"/><use href="#s" class="f" x="752" y="632"/><use href="#c" x="768" y="632"/><use href="#s" class="f" x="784" y="632"/><use href="#c" x="800" y="632"/><use href="#s" class="f" x="815" y="632"/><use href="#s" x="828" y="632"/>
<text class="k" x="683" y="590">*</text><text class="k" x="718" y="590">*</text><text class="k" x="753" y="590">*</text><text class="k" x="793" y="590">*</text><text class="k" x="683" y="630">*</text><text class="k" x="745" y="630">*</text><text class="k" x="777" y="630">*</text><text class="k" x="808" y="630">*</text>
<g class="t" style="font-size:4.8px"><text x="705" y="522">I:1</text><text x="735" y="522">I:2</text><text x="762" y="522">I:3</text><text x="792" y="522">I:4</text><text x="680" y="550">II:1</text><text x="700" y="550">II:2</text><text x="722" y="550">II:3</text><text x="745" y="550">II:4</text><text x="768" y="550">II:5</text><text x="790" y="550">II:6</text><text x="815" y="550">II:7</text><text x="690" y="572">III:1</text><text x="712" y="572">III:2</text><text x="760" y="572">III:3</text><text x="790" y="572">III:4</text><text x="690" y="598">IV:1</text><text x="715" y="598">IV:2</text><text x="760" y="598">IV:3</text><text x="790" y="598">IV:4</text><text x="690" y="643">V:1</text><text x="715" y="643">V:2</text><text x="752" y="643">V:3</text><text x="768" y="643">V:4</text><text x="784" y="643">V:5</text><text x="800" y="643">V:6</text><text x="815" y="643">V:7</text><text x="828" y="643">V:8</text></g>
</g>

<g id="p11DG0417">
<text class="h" x="903" y="503">11DG0417</text>
<g class="conn"><path class="l" d="M888,514H918M903,514V528M848,528H988M848,528V545M875,528V545M903,528V545M940,528V545M988,528V545M848,545V580M865,565H985M865,565V580M895,565V580M915,565V580M935,565V580M960,565V580M985,565V580M850,600H1000M850,600V612M868,600V612M885,600V612M905,600V612M925,600V612M945,600V612M965,600V612M985,600V612M1000,600V612M882,612V628M860,628H905M860,628V640M875,628V640M890,628V640M905,628V640M960,612V628M930,628H990M930,628V640M945,628V640M960,628V640M975,628V640M990,628V640"/><path class="d" d="M852,550L888,590M905,550L930,600M945,550L975,600"/></g>
<use href="#s" x="888" y="514"/><use href="#c" x="918" y="514"/>
<use href="#s" x="848" y="545"/><use href="#s" x="875" y="545"/><use href="#c" x="903" y="545"/><use href="#s" x="940" y="545"/><use href="#c" x="988" y="545"/>
<use href="#c" x="848" y="580"/><use href="#s" x="865" y="580"/><use href="#c" x="895" y="580"/><use href="#s" x="915" y="580"/><use href="#c" x="935" y="580"/><use href="#s" x="960" y="580"/><use href="#c" x="985" y="580"/>
<use href="#s" x="850" y="612"/><use href="#c" x="868" y="612"/><use href="#s" x="885" y="612"/><use href="#c" x="905" y="612"/><use href="#s" x="925" y="612"/><use href="#c" x="945" y="612"/><use href="#s" x="965" y="612"/><use href="#c" x="985" y="612"/><use href="#s" x="1000" y="612"/>
<use href="#c" x="860" y="640"/><use href="#c" x="875" y="640"/><use href="#c" x="890" y="640"/><use href="#c" x="905" y="640"/><use href="#c" x="930" y="640"/><use href="#c" x="945" y="640"/><use href="#c" class="f" x="960" y="640"/><use href="#c" class="f" x="975" y="640"/><use href="#s" class="f" x="990" y="640"/><use href="#p" class="r" x="990" y="640"/>
<text class="k" x="924" y="638">*</text><text class="k" x="940" y="638">*</text><text class="k" x="969" y="638">*</text><text class="k" x="984" y="638">*</text>
<g class="t" style="font-size:4.8px"><text x="888" y="524">I:1</text><text x="918" y="524">I:2</text><text x="848" y="555">II:1</text><text x="875" y="555">II:2</text><text x="903" y="555">II:3</text><text x="940" y="555">II:4</text><text x="988" y="555">II:5</text><text x="848" y="590">III:1</text><text x="865" y="590">III:2</text><text x="895" y="590">III:3</text><text x="915" y="590">III:4</text><text x="935" y="590">III:5</text><text x="960" y="590">III:6</text><text x="985" y="590">III:7</text><text x="850" y="622">IV:1</text><text x="868" y="622">IV:2</text><text x="885" y="622">IV:3</text><text x="905" y="622">IV:4</text><text x="925" y="622">IV:5</text><text x="945" y="622">IV:6</text><text x="965" y="622">IV:7</text><text x="985" y="622">IV:8</text><text x="1000" y="622">IV:9</text><text x="860" y="652">V:1</text><text x="875" y="652">V:2</text><text x="890" y="652">V:3</text><text x="905" y="652">V:4</text><text x="930" y="652">V:5</text><text x="945" y="652">V:6</text><text x="960" y="652">V:7</text><text x="975" y="652">V:8</text><text x="990" y="652">V:9</text></g>
</g>

<g id="p12DG0320">
<text class="h" x="1093" y="500">12DG0320</text>
<g class="conn"><path class="l" d="M1075,512H1115M1095,512V532M1052,532H1140M1052,532V555M1140,532V555M1052,555H1082M1140,555H1170M1067,555V580M1043,580H1094M1043,580V600M1066,580V600M1094,580V600M1155,555V580M1128,580H1180M1128,580V600M1150,580V600M1180,580V600M1094,598.5H1128M1094,601.5H1128M1111,600V625M1058,625H1162M1058,625V645M1083,625V638M1112,625V638M1140,625V645M1162,625V638"/></g>
<use href="#L" x="1075" y="512"/><use href="#O" x="1115" y="512"/>
<use href="#L" x="1052" y="555"/><use href="#O" x="1082" y="555"/><use href="#L" x="1140" y="555"/><use href="#O" x="1170" y="555"/>
<use href="#O" x="1043" y="600"/><use href="#L" x="1066" y="600"/><use href="#L" x="1094" y="600"/><use href="#O" x="1128" y="600"/><use href="#L" x="1150" y="600"/><use href="#L" x="1180" y="600"/>
<use href="#L" class="f" x="1058" y="645"/><use href="#P" class="r" x="1058" y="645"/><use href="#TR" x="1083" y="643"/><use href="#TR" x="1112" y="643"/><use href="#L" class="f" x="1140" y="645"/><use href="#X" x="1140" y="645"/><use href="#TR" x="1162" y="643"/>
<text class="n" x="1043" y="602">7</text><text class="n" x="1066" y="602">4</text>
<text class="k" x="1086" y="597">*</text><text class="k" x="1120" y="597">*</text><text class="k" x="1050" y="637">*</text><text class="k" x="1133" y="639">*</text>
<g class="T" style="font-size:6.5px"><text x="1075" y="528">I:2</text><text x="1115" y="528">I:1</text><text x="1052" y="571">II:1</text><text x="1082" y="571">II:2</text><text x="1140" y="571">II:3</text><text x="1170" y="571">II:4</text><text x="1043" y="616">III:1</text><text x="1066" y="616">III:2</text><text x="1094" y="616">III:3</text><text x="1128" y="616">III:4</text><text x="1150" y="616">III:5</text><text x="1180" y="616">III:6</text><text x="1058" y="661">IV:1</text><text x="1083" y="661">IV:2</text><text x="1112" y="661">IV:3</text><text x="1140" y="661">IV:4</text><text x="1162" y="661">IV:5</text></g>
</g>

<g id="p14DG0221">
<text class="h" x="1243" y="497">14DG0221</text>
<g class="conn"><path class="l" d="M1225,508H1258M1241,508V532M1235,532H1262M1235,532V560M1262,532V560M1210,560H1235M1262,560H1290M1222,560V600M1276,560V600M1222,598.5H1276M1222,601.5H1276M1249,600V620M1215,620H1307M1215,620V634M1240,620V634M1265,620V634M1287,620V634M1307,620V634"/></g>
<use href="#L" x="1225" y="508"/><use href="#O" x="1258" y="508"/>
<use href="#L" x="1210" y="560"/><use href="#O" x="1235" y="560"/><use href="#L" x="1262" y="560"/><use href="#O" x="1290" y="560"/>
<use href="#L" x="1222" y="600"/><use href="#O" x="1276" y="600"/>
<use href="#O" class="f" x="1215" y="634"/><use href="#P" class="r" x="1215" y="634"/><use href="#O" x="1240" y="634"/><use href="#L" class="f" x="1265" y="634"/><use href="#O" class="f" x="1287" y="634"/><use href="#L" class="f" x="1307" y="634"/>
<text class="k" x="1213" y="602">*</text><text class="k" x="1268" y="602">*</text><text class="k" x="1206" y="632">*</text><text class="k" x="1279" y="632">*</text><text class="k" x="1298" y="632">*</text>
<g class="T" style="font-size:6.5px"><text x="1225" y="524">I:1</text><text x="1258" y="524">I:2</text><text x="1210" y="577">II:1</text><text x="1235" y="577">II:2</text><text x="1262" y="577">II:3</text><text x="1290" y="577">II:4</text><text x="1222" y="616">III:1</text><text x="1276" y="616">III:2</text><text x="1215" y="651">IV:1</text><text x="1240" y="651">IV:2</text><text x="1265" y="651">IV:3</text><text x="1287" y="651">IV:4</text><text x="1307" y="651">IV:5</text></g>
</g>

<g id="p13DG1935">
<text class="h" x="114" y="692">13DG1935</text>
<g class="conn"><path class="l" d="M84,703H145M115,703V722M42,722H220M42,722V742M63,722V742M115,722V742M185,722V742M220,722V742M15,742H42M63,742H88M115,740.5H150M115,743.5H150M185,742H220M28,742V770M75,742V770M28,768.5H75M28,771.5H75M52,770V785M20,785H90M20,785V800M45,785V800M66,785V800M90,785V800M132,742V758M100,758H195M100,758V770M128,758V770M150,758V770M195,758V770M172,770V770M150,768.5H172M150,771.5H172M161,770V788M135,788H180M135,788V800M155,788V800M180,788V800M202,742V758M220,758H240M220,758V770M240,758V770M240,770H262M251,770V788M215,788H245M215,788V800M245,788V800"/></g>
<use href="#s" x="84" y="703"/><use href="#c" x="145" y="703"/>
<use href="#s" x="15" y="742"/><use href="#s" x="42" y="742"/><use href="#c" x="63" y="742"/><use href="#s" x="88" y="742"/><use href="#c" x="115" y="742"/><use href="#s" x="150" y="742"/><use href="#s" x="185" y="742"/><use href="#c" x="220" y="742"/>
<use href="#s" x="28" y="770"/><use href="#c" x="75" y="770"/><use href="#s" x="100" y="770"/><use href="#c" x="128" y="770"/><use href="#s" x="150" y="770"/><use href="#c" x="172" y="770"/><use href="#s" x="195" y="770"/><use href="#s" x="220" y="770"/><use href="#s" x="240" y="770"/><use href="#c" x="262" y="770"/>
<use href="#c" class="f" x="20" y="800"/><use href="#c" class="f" x="45" y="800"/><use href="#s" class="f" x="66" y="800"/><use href="#s" class="f" x="90" y="800"/><use href="#c" x="135" y="800"/><use href="#c" class="f" x="155" y="800"/><use href="#s" class="f" x="180" y="800"/><use href="#p" class="r" x="180" y="800"/><use href="#s" x="215" y="800"/><use href="#s" x="245" y="800"/>
<text class="n" x="128" y="772">4</text><text class="n" x="195" y="772">6</text>
<text class="k" x="142" y="771">*</text><text class="k" x="170" y="767">*</text><text class="k" x="128" y="803">*</text><text class="k" x="148" y="803">*</text><text class="k" x="171" y="803">*</text>
<g class="t"><text x="84" y="713">I:2</text><text x="145" y="713">I:1</text><text x="15" y="753">II:1</text><text x="42" y="753">II:2</text><text x="63" y="753">II:3</text><text x="88" y="753">II:4</text><text x="115" y="753">II:5</text><text x="150" y="753">II:6</text><text x="185" y="753">II:7</text><text x="220" y="753">II:8</text><text x="28" y="783">III:1</text><text x="75" y="783">III:2</text><text x="100" y="783">III:3</text><text x="128" y="783">III:4</text><text x="150" y="781">III:5</text><text x="172" y="783">III:6</text><text x="195" y="783">III:7</text><text x="220" y="783">III:8</text><text x="240" y="783">III:9</text><text x="262" y="783">III:10</text><text x="20" y="815">IV:1</text><text x="45" y="815">IV:2</text><text x="66" y="815">IV:3</text><text x="90" y="815">IV:4</text><text x="135" y="815">IV:5</text><text x="155" y="815">IV:6</text><text x="180" y="815">IV:7</text><text x="215" y="815">IV:8</text><text x="245" y="815">IV:9</text></g>
</g>

<g id="p13DG1472">
<text class="h" x="339" y="709">13DG1472</text>
<g class="conn"><path class="l" d="M325,720H360M342,720V738M310,738H380M310,738V752M380,738V752M310,752H335M380,752H430M322,752V772M305,772H350M305,772V785M330,772V785M350,772V785M405,752V772M380,772H437M380,772V785M410,772V785M437,772V785M350,783.5H380M350,786.5H380M365,785V805M333,805H420M333,805V818M366,805V818M395,805V818M420,805V818"/></g>
<use href="#s" x="325" y="720"/><use href="#c" x="360" y="720"/>
<use href="#s" x="310" y="752"/><use href="#c" x="335" y="752"/><use href="#c" x="380" y="752"/><use href="#s" x="430" y="752"/>
<use href="#s" x="305" y="785"/><use href="#s" x="330" y="785"/><use href="#s" x="350" y="785"/><use href="#c" x="380" y="785"/><use href="#s" x="410" y="785"/><use href="#s" x="437" y="785"/>
<use href="#c" class="f" x="333" y="818"/><use href="#s" class="f" x="366" y="818"/><use href="#p" class="r" x="366" y="818"/><use href="#s" class="f" x="395" y="818"/><use href="#c" class="f" x="420" y="818"/>
<text class="k" x="343" y="787">*</text><text class="k" x="375" y="787">*</text><text class="k" x="325" y="819">*</text><text class="k" x="355" y="819">*</text><text class="k" x="386" y="819">*</text><text class="k" x="410" y="819">*</text>
<g class="t"><text x="325" y="730">I:1</text><text x="360" y="730">I:2</text><text x="310" y="763">II:1</text><text x="335" y="763">II:2</text><text x="380" y="763">II:3</text><text x="430" y="763">II:4</text><text x="305" y="797">III:1</text><text x="330" y="797">III:2</text><text x="350" y="797">III:3</text><text x="380" y="797">III:4</text><text x="410" y="797">III:5</text><text x="437" y="797">III:6</text><text x="333" y="831">IV:1</text><text x="366" y="831">IV:2</text><text x="395" y="831">IV:3</text><text x="420" y="831">IV:4</text></g>
</g>

<g id="p13DG1542">
<text class="h" x="548" y="709">13DG1542</text>
<g class="conn"><path class="l" d="M495,722H520M507,722V738M478,738H533M478,738V752M533,738V752M580,722H600M590,722V738M565,738H632M565,738V752M632,738V752M478,752H505M492,752V790M533,752V775H520V790M565,752H605M585,752V790M632,752V790M492,788.5H520M492,791.5H520M585,788.5H632M585,791.5H632M506,790V810M485,810H537M485,810V822M537,810V822M608,790V810M578,810H625M578,810V822M600,810V822M625,810V822"/></g>
<use href="#s" x="495" y="722"/><use href="#c" x="520" y="722"/><use href="#s" x="580" y="722"/><use href="#c" x="600" y="722"/>
<use href="#s" x="478" y="752"/><use href="#c" x="505" y="752"/><use href="#s" x="533" y="752"/><use href="#s" x="565" y="752"/><use href="#c" x="605" y="752"/><use href="#s" x="632" y="752"/>
<use href="#s" x="492" y="790"/><use href="#c" x="520" y="790"/><use href="#s" x="585" y="790"/><use href="#c" x="632" y="790"/>
<use href="#s" x="485" y="822"/><use href="#s" class="f" x="537" y="822"/><use href="#p" class="r" x="537" y="822"/><use href="#c" class="f" x="578" y="822"/><use href="#x" x="578" y="822"/><use href="#c" class="f" x="600" y="822"/><use href="#s" x="625" y="822"/>
<text class="k" x="530" y="820">*</text><text class="k" x="571" y="818">*</text><text class="k" x="595" y="818">*</text><text class="k" x="620" y="818">*</text>
<g class="t"><text x="495" y="732">I:1</text><text x="520" y="732">I:2</text><text x="580" y="732">I:3</text><text x="600" y="732">I:4</text><text x="478" y="763">II:1</text><text x="505" y="763">II:2</text><text x="533" y="763">II:3</text><text x="565" y="763">II:4</text><text x="605" y="763">II:5</text><text x="632" y="763">II:6</text><text x="492" y="801">III:1</text><text x="520" y="801">III:2</text><text x="585" y="801">III:3</text><text x="632" y="801">III:4</text><text x="485" y="836">IV:1</text><text x="537" y="836">IV:2</text><text x="578" y="836">IV:3</text><text x="600" y="836">IV:4</text><text x="625" y="836">IV:5</text></g>
</g>

<g id="p10DG0703">
<text class="h" x="727" y="669">10DG0703</text>
<g class="conn"><path class="l" d="M705,682H745M725,682V700M718,700H766M718,700V715M766,700V715M686,715H718M766,715H800M702,715V732M677,732H730M677,732V745M700,732V745M730,732V745M783,715V732M757,732H815M757,732V745M775,732V745M795,732V745M815,732V745M730,743.5H757M730,746.5H757M743,745V775M722,775H758M722,775V790M758,775V790"/></g>
<use href="#m" x="705" y="682"/><use href="#o" x="745" y="682"/>
<use href="#m" x="686" y="715"/><use href="#o" x="718" y="715"/><use href="#m" x="766" y="715"/><use href="#o" x="800" y="715"/>
<use href="#m" x="677" y="745"/><use href="#o" x="700" y="745"/><use href="#o" x="730" y="745"/><use href="#m" x="757" y="745"/><use href="#m" x="775" y="745"/><use href="#m" x="795" y="745"/><use href="#m" x="815" y="745"/>
<use href="#o" class="f" x="722" y="790"/><use href="#P" class="r" x="722" y="790"/><use href="#o" class="f" x="758" y="790"/>
<text class="k" x="721" y="742">*</text><text class="k" x="750" y="742">*</text><text class="k" x="713" y="792">*</text><text class="k" x="750" y="792">*</text>
<g class="t" style="font-size:6px"><text x="705" y="695">I:1</text><text x="745" y="695">I:2</text><text x="686" y="728">II:1</text><text x="718" y="728">II:2</text><text x="766" y="728">II:3</text><text x="800" y="728">II:4</text><text x="677" y="758">III:1</text><text x="700" y="758">III:2</text><text x="730" y="758">III:3</text><text x="757" y="758">III:4</text><text x="775" y="758">III:5</text><text x="795" y="758">III:6</text><text x="815" y="758">III:7</text><text x="722" y="805">IV:1</text><text x="758" y="805">IV:2</text></g>
</g>

<g id="p08DG00485">
<text class="h" x="903" y="679">08DG00485</text>
<g class="conn"><path class="l" d="M880,692H925M902,692V712M880,712H925M880,712V725M925,712V725M847,725H880M925,725H960M862,725V760M940,725V760M862,758.5H940M862,761.5H940M901,760V785M862,785H932M862,785V800M905,785V800M932,785V794"/></g>
<use href="#O" x="880" y="692"/><use href="#L" x="925" y="692"/>
<use href="#L" x="847" y="725"/><use href="#O" x="880" y="725"/><use href="#O" x="925" y="725"/><use href="#L" x="960" y="725"/>
<use href="#L" x="862" y="760"/><use href="#O" x="940" y="760"/>
<use href="#L" class="f" x="862" y="800"/><use href="#P" class="r" x="862" y="800"/><use href="#O" class="f" x="905" y="800"/><use href="#TR" x="932" y="799"/>
<text class="k" x="852" y="762">*</text><text class="k" x="935" y="759">*</text><text class="k" x="854" y="800">*</text>
<g class="T" style="font-size:6.5px"><text x="870" y="707">I:1</text><text x="935" y="707">I:2</text><text x="847" y="741">II:1</text><text x="880" y="741">II:2</text><text x="925" y="741">II:3</text><text x="960" y="741">II:4</text><text x="862" y="777">III:1</text><text x="940" y="777">III:2</text><text x="862" y="816">IV:1</text><text x="905" y="816">IV:2</text><text x="932" y="816">IV:3</text></g>
</g>

<g id="p12DG0929">
<text class="h" x="1050" y="680">12DG0929</text>
<g class="conn"><path class="l" d="M1025,692H1075M1050,692V710M1035,710H1090M1035,710V727M1090,710V727M1005,727H1035M1090,727H1120M1020,727V750M1000,750H1050M1000,750V765M1025,750V765M1050,750V765M1105,727V750M1095,750H1150M1095,750V765M1120,750V765M1150,750V765M1050,763.5H1095M1050,766.5H1095M1072,765V790M1040,790H1105M1040,790V805M1060,790V805M1085,790V805M1105,790V805"/></g>
<use href="#m" x="1025" y="692"/><use href="#o" x="1075" y="692"/>
<use href="#m" x="1005" y="727"/><use href="#o" x="1035" y="727"/><use href="#m" x="1090" y="727"/><use href="#o" x="1120" y="727"/>
<use href="#m" x="1000" y="765"/><use href="#o" x="1025" y="765"/><use href="#m" x="1050" y="765"/><use href="#o" x="1095" y="765"/><use href="#m" x="1120" y="765"/><use href="#m" x="1150" y="765"/>
<use href="#o" x="1040" y="805"/><use href="#m" class="f" x="1060" y="805"/><use href="#P" class="r" x="1060" y="805"/><use href="#o" class="f" x="1085" y="805"/><use href="#o" class="f" x="1105" y="805"/>
<text class="k" x="1043" y="763">*</text><text class="k" x="1087" y="763">*</text><text class="k" x="1031" y="806">*</text><text class="k" x="1051" y="806">*</text><text class="k" x="1076" y="806">*</text><text class="k" x="1096" y="806">*</text>
<g class="t" style="font-size:6px"><text x="1025" y="705">I:1</text><text x="1075" y="705">I:2</text><text x="1005" y="740">II:1</text><text x="1035" y="740">II:2</text><text x="1090" y="740">II:3</text><text x="1120" y="740">II:4</text><text x="1000" y="778">III:1</text><text x="1025" y="778">III:2</text><text x="1050" y="778">III:3</text><text x="1095" y="778">III:4</text><text x="1120" y="778">III:5</text><text x="1150" y="778">III:6</text><text x="1040" y="818">IV:1</text><text x="1060" y="818">IV:2</text><text x="1085" y="818">IV:3</text><text x="1105" y="818">IV:4</text></g>
</g>

<g id="p13DG0274">
<text class="h" x="1225" y="686">13DG0274</text>
<g class="conn"><path class="l" d="M1210,697H1240M1225,697V712M1205,712H1255M1205,712V725M1255,712V725M1178,725H1205M1255,725H1290M1192,725V745M1170,745H1215M1170,745V760M1192,745V760M1215,745V760M1272,725V745M1250,745H1300M1250,745V760M1275,745V760M1300,745V760M1215,758.5H1250M1215,761.5H1250M1232,760V780M1215,780H1255M1215,780V793M1255,780V793"/></g>
<use href="#s" x="1210" y="697"/><use href="#c" x="1240" y="697"/>
<use href="#s" x="1178" y="725"/><use href="#c" x="1205" y="725"/><use href="#c" x="1255" y="725"/><use href="#s" x="1290" y="725"/>
<use href="#s" x="1170" y="760"/><use href="#c" x="1192" y="760"/><use href="#s" x="1215" y="760"/><use href="#c" x="1250" y="760"/><use href="#s" x="1275" y="760"/><use href="#s" x="1300" y="760"/>
<use href="#s" class="f" x="1215" y="793"/><use href="#p" class="r" x="1215" y="793"/><use href="#s" class="f" x="1255" y="793"/>
<text class="n" x="1192" y="762">2</text>
<text class="k" x="1208" y="762">*</text><text class="k" x="1245" y="762">*</text><text class="k" x="1207" y="794">*</text><text class="k" x="1248" y="794">*</text>
<g class="t"><text x="1210" y="707">I:1</text><text x="1240" y="707">I:2</text><text x="1178" y="736">II:1</text><text x="1205" y="736">II:2</text><text x="1255" y="736">II:3</text><text x="1290" y="736">II:4</text><text x="1170" y="772">III:1</text><text x="1192" y="772">III:2</text><text x="1215" y="772">III:3</text><text x="1250" y="772">III:4</text><text x="1275" y="772">III:5</text><text x="1300" y="772">III:6</text><text x="1215" y="806">IV:1</text><text x="1255" y="806">IV:2</text></g>
</g>

<g id="p13DG1900">
<text class="h" x="89" y="845">13DG1900</text>
<g class="conn"><path class="l" d="M40,858H155M70,858V875H85V890M128,858V875H130V890M40,890H85M130,890H170M62,890V910M45,910H95M45,910V925M70,910V925M95,910V925M150,890V910M128,910H178M128,910V925M155,910V925M178,910V925M95,923.5H128M95,926.5H128M111,925V945M70,945H167M70,945V958M95,945V958M120,945V958M145,945V958M167,945V958"/></g>
<use href="#m" x="40" y="858"/><use href="#o" x="100" y="858"/><use href="#m" x="155" y="858"/>
<use href="#m" x="40" y="890"/><use href="#o" x="85" y="890"/><use href="#o" x="130" y="890"/><use href="#m" x="170" y="890"/>
<use href="#o" x="45" y="925"/><use href="#m" x="70" y="925"/><use href="#m" x="95" y="925"/><use href="#o" x="128" y="925"/><use href="#o" x="155" y="925"/><use href="#m" x="178" y="925"/>
<use href="#o" x="70" y="958"/><use href="#o" class="f" x="95" y="958"/><use href="#x" x="95" y="958"/><use href="#m" x="120" y="958"/><use href="#m" x="145" y="958"/><use href="#o" class="f" x="167" y="958"/><use href="#P" class="r" x="167" y="958"/>
<text class="n" x="45" y="927">3</text><text class="n" x="70" y="927">4</text><text class="n" x="155" y="927">5</text><text class="n" x="178" y="927">3</text>
<text class="k" x="88" y="925">*</text><text class="k" x="121" y="925">*</text><text class="k" x="60" y="959">*</text><text class="k" x="88" y="959">*</text><text class="k" x="159" y="959">*</text>
<g class="t" style="font-size:6px"><text x="40" y="870">I:1</text><text x="100" y="870">I:2</text><text x="155" y="870">I:3</text><text x="40" y="902">II:1</text><text x="85" y="902">II:2</text><text x="130" y="902">II:3</text><text x="170" y="902">II:4</text><text x="45" y="938">III:1</text><text x="70" y="938">III:2</text><text x="95" y="938">III:3</text><text x="128" y="938">III:4</text><text x="155" y="938">III:5</text><text x="178" y="938">III:6</text><text x="70" y="972">IV:1</text><text x="95" y="972">IV:2</text><text x="120" y="972">IV:3</text><text x="145" y="972">IV:4</text><text x="167" y="972">IV:5</text></g>
</g>

<g id="p12DG2051">
<text class="h" x="309" y="845">12DG2051</text>
<g class="conn"><path class="l" d="M258,856H350M279,856V890M325,856V875H350V890M280,890H305M350,890H380M293,890V925M365,890V910H345V925M293,923.5H345M293,926.5H345M320,925V945M262,945H385M262,945V958M280,945V958M300,945V954M320,945V954M340,945V958M362,945V958M385,945V958"/></g>
<use href="#m" x="258" y="856"/><use href="#o" x="300" y="856"/><use href="#m" x="350" y="856"/>
<use href="#m" x="280" y="890"/><use href="#o" x="305" y="890"/><use href="#m" x="350" y="890"/><use href="#o" x="380" y="890"/>
<use href="#m" x="293" y="925"/><use href="#o" x="345" y="925"/>
<use href="#o" x="262" y="958"/><use href="#o" x="280" y="958"/><use href="#tr" x="300" y="957"/><use href="#tr" x="320" y="957"/><use href="#m" class="f" x="340" y="958"/><use href="#m" class="f" x="362" y="958"/><use href="#P" class="r" x="362" y="958"/><use href="#m" class="f" x="385" y="958"/>
<text class="k" x="287" y="925">*</text><text class="k" x="338" y="925">*</text><text class="k" x="255" y="959">*</text><text class="k" x="273" y="959">*</text><text class="k" x="332" y="959">*</text><text class="k" x="353" y="959">*</text><text class="k" x="377" y="959">*</text>
<g class="t" style="font-size:6px"><text x="258" y="868">I:1</text><text x="300" y="868">I:2</text><text x="350" y="868">I:3</text><text x="280" y="902">II:1</text><text x="305" y="902">II:2</text><text x="350" y="902">II:3</text><text x="380" y="902">II:4</text><text x="293" y="938">III:1</text><text x="345" y="938">III:2</text><text x="262" y="972">IV:1</text><text x="280" y="972">IV:2</text><text x="300" y="972">IV:3</text><text x="320" y="972">IV:4</text><text x="340" y="972">IV:5</text><text x="362" y="972">IV:6</text><text x="385" y="972">IV:7</text></g>
</g>

<g id="p10DG1069">
<text class="h" x="516" y="853">10DG1069</text>
<g class="conn"><path class="l" d="M490,866H540M515,866V880M510,880H560M510,880V895M560,880V895M470,895H510M560,895H600M490,895V915M463,915H510M463,915V933M487,915V933M510,915V933M580,895V915M553,915H602M553,915V933M578,915V933M602,915V933M510,931.5H553M510,934.5H553M531,933V952M500,952H560M500,952V968M560,952V968"/></g>
<use href="#m" x="490" y="866"/><use href="#o" x="540" y="866"/>
<use href="#m" x="470" y="895"/><use href="#o" x="510" y="895"/><use href="#m" x="560" y="895"/><use href="#o" x="600" y="895"/>
<use href="#o" x="463" y="933"/><use href="#m" x="487" y="933"/><use href="#m" x="510" y="933"/><use href="#o" x="553" y="933"/><use href="#m" x="578" y="933"/><use href="#o" x="602" y="933"/>
<use href="#o" class="f" x="500" y="968"/><use href="#P" class="r" x="500" y="968"/><use href="#m" class="f" x="560" y="968"/>
<text class="n" x="463" y="935">2</text><text class="n" x="487" y="935">2</text><text class="n" x="602" y="935">3</text>
<text class="k" x="504" y="932">*</text><text class="k" x="546" y="932">*</text><text class="k" x="492" y="967">*</text><text class="k" x="553" y="967">*</text>
<g class="t" style="font-size:6px"><text x="490" y="879">I:1</text><text x="540" y="879">I:2</text><text x="470" y="908">II:1</text><text x="510" y="908">II:2</text><text x="560" y="908">II:3</text><text x="600" y="908">II:4</text><text x="463" y="946">III:1</text><text x="487" y="946">III:2</text><text x="510" y="946">III:3</text><text x="553" y="946">III:4</text><text x="578" y="946">III:5</text><text x="602" y="946">III:6</text><text x="500" y="982">IV:1</text><text x="560" y="982">IV:2</text></g>
</g>

<g id="p11DG1513">
<text class="h" x="730" y="823">11DG1513</text>
<g class="conn"><path class="l" d="M710,838H750M730,838V858M720,858H785M720,858V875M785,858V875M687,875H720M785,875H820M703,875V900M681,900H728M681,900V915M705,900V915M728,900V915M802,875V900M775,900H830M775,900V915M830,900V915M728,913.5H775M728,916.5H775M751,915V942M720,942H785M720,942V955M752,942V955M785,942V955"/></g>
<use href="#m" x="710" y="838"/><use href="#o" x="750" y="838"/>
<use href="#m" x="687" y="875"/><use href="#o" x="720" y="875"/><use href="#m" x="785" y="875"/><use href="#o" x="820" y="875"/>
<use href="#m" x="681" y="915"/><use href="#o" x="705" y="915"/><use href="#m" x="728" y="915"/><use href="#o" x="775" y="915"/><use href="#m" x="830" y="915"/>
<use href="#m" class="f" x="720" y="955"/><use href="#m" x="752" y="955"/><use href="#o" class="f" x="785" y="955"/><use href="#P" class="r" x="785" y="955"/>
<text class="k" x="722" y="917">*</text><text class="k" x="768" y="917">*</text><text class="k" x="708" y="957">*</text><text class="k" x="740" y="957">*</text><text class="k" x="773" y="957">*</text>
<g class="t" style="font-size:6px"><text x="710" y="851">I:1</text><text x="750" y="851">I:2</text><text x="687" y="888">II:1</text><text x="720" y="888">II:2</text><text x="785" y="888">II:3</text><text x="820" y="888">II:4</text><text x="681" y="929">III:1</text><text x="705" y="929">III:2</text><text x="728" y="929">III:3</text><text x="775" y="929">III:4</text><text x="830" y="929">III:5</text><text x="720" y="970">IV:1</text><text x="752" y="970">IV:2</text><text x="785" y="970">IV:3</text></g>
</g>

<g id="p09DG0100">
<text class="h" x="967" y="835">09DG0100</text>
<g class="conn"><path class="l" d="M910,848H940M925,848V866M887,866H968M887,866V885M968,866V885M887,885H920M968,885H1012M975,880L1000,852M1005,848V866M1040,866H1065M1005,866H1065M1040,866V885M1065,866V885M903,885V905M885,905H920M885,905V922M920,905V922M990,885V905M968,905H1015M968,905V922M990,905V922M1015,905V922M920,920.5H968M920,923.5H968M944,922V948M910,948H1015M910,948V962M938,948V962M966,948V962M990,948V962M1015,948V962"/></g>
<use href="#m" x="910" y="848"/><use href="#o" x="940" y="848"/><use href="#m" x="1005" y="848"/>
<use href="#m" x="887" y="885"/><use href="#o" x="920" y="885"/><use href="#m" x="968" y="885"/><use href="#o" x="1012" y="885"/><use href="#m" x="1040" y="885"/><use href="#m" x="1065" y="885"/>
<use href="#m" x="885" y="922"/><use href="#m" x="920" y="922"/><use href="#o" x="968" y="922"/><use href="#m" x="990" y="922"/><use href="#m" x="1015" y="922"/>
<use href="#o" x="910" y="962"/><use href="#m" class="f" x="938" y="962"/><use href="#P" class="r" x="938" y="962"/><use href="#o" class="f" x="966" y="962"/><use href="#o" x="990" y="962"/><use href="#m" class="f" x="1015" y="962"/>
<text class="k" x="913" y="924">*</text><text class="k" x="958" y="924">*</text><text class="k" x="902" y="963">*</text><text class="k" x="930" y="963">*</text><text class="k" x="958" y="963">*</text><text class="k" x="983" y="963">*</text><text class="k" x="1008" y="963">*</text>
<g class="t" style="font-size:6px"><text x="910" y="861">I:1</text><text x="940" y="861">I:2</text><text x="1007" y="861">II:5</text><text x="887" y="898">II:1</text><text x="920" y="898">II:2</text><text x="968" y="898">II:3</text><text x="1012" y="898">II:4</text><text x="1040" y="898">III:6</text><text x="1065" y="898">III:7</text><text x="885" y="936">III:1</text><text x="920" y="936">III:2</text><text x="968" y="936">III:3</text><text x="990" y="936">III:4</text><text x="1015" y="936">III:5</text><text x="910" y="977">IV:1</text><text x="938" y="977">IV:2</text><text x="966" y="977">IV:3</text><text x="990" y="977">IV:4</text><text x="1015" y="977">IV:5</text></g>
</g>

<g id="p13DG0832">
<text class="h" x="1177" y="825">13DG0832</text>
<g class="conn"><path class="l" d="M1160,838H1195M1177,838V852M1135,852H1302M1135,852V868M1210,852V868M1270,852V868M1302,852V868M1110,868H1135M1122,868V888M1095,888H1175M1095,888V905M1115,888V905M1135,888V905M1155,888V905M1175,888V905M1210,868H1240M1225,868V888H1200V905M1175,903.5H1200M1175,906.5H1200M1187,905V922M1100,922H1215M1100,922V937M1118,922V937M1138,922V937M1158,922V937M1178,922V937M1197,922V937M1215,922V937M1270,868V905M1270,905H1302M1286,905V922M1260,922H1300M1260,922V937M1280,922V937M1300,922V937M1232,924V958M1215,958H1253M1215,958V972M1253,958V972"/><path class="d" d="M1200,905L1260,937"/></g>
<use href="#s" x="1160" y="838"/><use href="#c" x="1195" y="838"/>
<use href="#s" x="1110" y="868"/><use href="#c" x="1135" y="868"/><use href="#s" x="1210" y="868"/><use href="#c" x="1240" y="868"/><use href="#s" x="1270" y="868"/><use href="#s" x="1302" y="868"/>
<use href="#s" x="1095" y="905"/><use href="#c" x="1115" y="905"/><use href="#s" x="1135" y="905"/><use href="#c" x="1155" y="905"/><use href="#s" x="1175" y="905"/><use href="#c" x="1200" y="905"/><use href="#s" x="1270" y="905"/><use href="#c" x="1302" y="905"/>
<use href="#s" x="1100" y="937"/><use href="#c" x="1118" y="937"/><use href="#c" x="1138" y="937"/><use href="#c" x="1158" y="937"/><use href="#s" x="1178" y="937"/><use href="#c" class="f" x="1197" y="937"/><use href="#p" class="r" x="1197" y="937"/><use href="#s" x="1215" y="937"/><use href="#c" x="1260" y="937"/><use href="#c" x="1280" y="937"/><use href="#s" x="1300" y="937"/>
<use href="#s" x="1215" y="972"/><use href="#c" x="1253" y="972"/>
<text class="n" x="1135" y="907">4</text><text class="n" x="1215" y="974">6</text><text class="n" x="1253" y="974">4</text>
<text class="k" x="1185" y="904">*</text><text class="k" x="1093" y="939">*</text><text class="k" x="1131" y="939">*</text><text class="k" x="1189" y="938">*</text><text class="k" x="1208" y="937">*</text>
<g class="t"><text x="1160" y="848">I:1</text><text x="1195" y="848">I:2</text><text x="1110" y="879">II:1</text><text x="1135" y="879">II:2</text><text x="1210" y="879">II:3</text><text x="1240" y="879">II:4</text><text x="1270" y="879">II:5</text><text x="1302" y="879">II:6</text><text x="1095" y="916">III:1</text><text x="1115" y="916">III:2</text><text x="1135" y="916">III:3</text><text x="1155" y="916">III:4</text><text x="1175" y="916">III:5</text><text x="1200" y="916">III:6</text><text x="1270" y="916">III:7</text><text x="1302" y="916">III:8</text><text x="1100" y="948">IV:1</text><text x="1118" y="948">IV:2</text><text x="1138" y="948">IV:3</text><text x="1158" y="948">IV:4</text><text x="1178" y="948">IV:5</text><text x="1197" y="948">IV:6</text><text x="1215" y="948">IV:7</text><text x="1260" y="948">IV:8</text><text x="1280" y="948">IV:9</text><text x="1300" y="948">IV:10</text><text x="1215" y="985">V:1</text><text x="1253" y="985">V:2</text></g>
</g>
</svg>
